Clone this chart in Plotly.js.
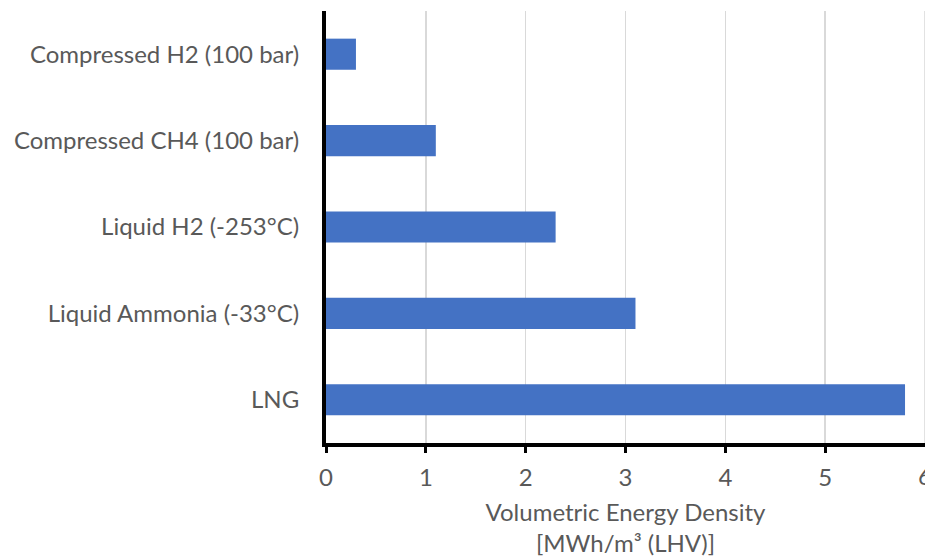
<!DOCTYPE html>
<html>
<head>
<meta charset="utf-8">
<script src="https://cdn.plot.ly/plotly-3.0.1.min.js"></script>
<style>
  html, body { margin: 0; padding: 0; background: #fff; }
  #chart { width: 925px; height: 560px; }
</style>
</head>
<body>
<div id="chart"></div>
<script>
// Storage options, listed bottom to top as drawn on the category axis
const categories = [
  "LNG",
  "Liquid Ammonia (-33°C)",
  "Liquid H2 (-253°C)",
  "Compressed CH4 (100 bar)",
  "Compressed H2 (100 bar)"
];
// Volumetric energy density, MWh/m³ (LHV)
const energyDensity = [5.8, 3.1, 2.3, 1.1, 0.3];
const xTickValues = [0, 1, 2, 3, 4, 5, 6];

const textColor = "#595959";
const font = "Lato, 'Open Sans', sans-serif";
const labelSize = 24;

const trace = {
  type: "bar",
  orientation: "h",
  y: categories,
  x: energyDensity,
  marker: { color: "#4472C4" },
  hoverinfo: "x+y"
};

// The last tick sits on the page edge; draw its label by hand so it is
// clipped by the page rather than dropped by the axis.
const lastTick = xTickValues[xTickValues.length - 1];

const layout = {
  width: 925,
  height: 560,
  margin: { l: 326, r: 0, t: 11, b: 117 },
  paper_bgcolor: "#ffffff",
  plot_bgcolor: "#ffffff",
  bargap: 0.64,
  showlegend: false,
  font: { family: font, color: textColor, size: labelSize },
  xaxis: {
    range: [0, lastTick],
    tickvals: xTickValues.slice(0, -1),
    ticktext: xTickValues.slice(0, -1).map(String),
    showgrid: true,
    gridcolor: "#d9d9d9",
    gridwidth: 1.5,
    zeroline: false,
    showline: true,
    linecolor: "#000000",
    linewidth: 4,
    ticks: "outside",
    ticklen: 6,
    tickwidth: 3,
    tickcolor: "#000000",
    ticklabelstandoff: 4,
    tickfont: { size: labelSize, color: textColor },
    title: {
      text: "Volumetric Energy Density<br>[MWh/m³ (LHV)]",
      font: { size: labelSize, color: textColor },
      standoff: 15
    },
    fixedrange: true
  },
  yaxis: {
    type: "category",
    showgrid: false,
    zeroline: false,
    showline: true,
    linecolor: "#000000",
    linewidth: 4,
    ticks: "",
    ticklabelstandoff: 18,
    tickfont: { size: labelSize, color: textColor },
    fixedrange: true
  },
  shapes: [{
    type: "line", xref: "x", yref: "paper",
    x0: lastTick, x1: lastTick, y0: 0, y1: 1,
    line: { color: "#d9d9d9", width: 1.5 }
  }],
  annotations: [{
    xref: "x", yref: "paper",
    x: lastTick, y: 0,
    xanchor: "center", yanchor: "top",
    yshift: -16,
    text: String(lastTick),
    showarrow: false,
    font: { size: labelSize, color: textColor }
  }]
};

Plotly.newPlot("chart", [trace], layout, { displayModeBar: false, staticPlot: true });
</script>
</body>
</html>
